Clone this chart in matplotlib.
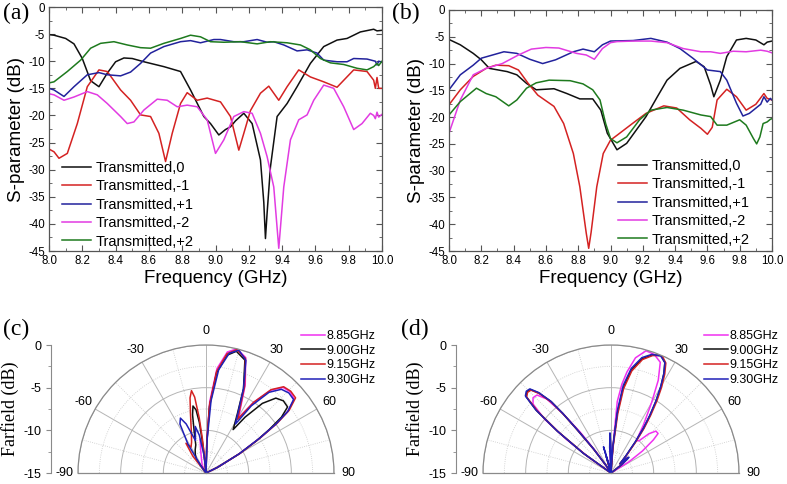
import numpy as np
import matplotlib.pyplot as plt
from matplotlib.ticker import MultipleLocator, FixedLocator

plt.rcParams['font.family'] = ['Liberation Sans', 'DejaVu Sans']
plt.rcParams['axes.unicode_minus'] = False

# ---------------- data: panel (a) ----------------
fa_t0 = [8.0, 8.03, 8.1, 8.15, 8.2, 8.25, 8.3, 8.35, 8.4, 8.45, 8.5, 8.57, 8.69, 8.79, 8.85, 8.93, 8.97,
         9.02, 9.06, 9.09, 9.12, 9.17, 9.22, 9.27, 9.29, 9.30, 9.31, 9.33, 9.37, 9.43, 9.49, 9.57, 9.65,
         9.73, 9.79, 9.87, 9.95, 9.97, 10.0]
sa_t0 = [-5.1, -5.2, -5.8, -6.8, -9.5, -13.6, -14.7, -12.2, -10.1, -9.4, -9.5, -10.1, -11.0, -11.9, -15.3,
         -20.2, -21.5, -23.6, -22.6, -22.1, -21.0, -19.6, -21.5, -28.2, -36.0, -42.7, -38.0, -29.5, -20.2,
         -17.8, -14.7, -10.4, -7.3, -6.1, -5.8, -4.6, -4.1, -4.4, -4.3]

fa_m1 = [8.0, 8.03, 8.06, 8.11, 8.17, 8.23, 8.3, 8.35, 8.43, 8.49, 8.55, 8.61, 8.66, 8.7, 8.74, 8.79,
         8.83, 8.89, 8.95, 9.03, 9.09, 9.14, 9.17, 9.21, 9.27, 9.32, 9.38, 9.43, 9.5, 9.57, 9.65, 9.73,
         9.83, 9.91, 9.95, 9.96, 9.97, 9.98, 10.0]
sa_m1 = [-26.2, -26.7, -27.9, -27.0, -21.5, -14.7, -11.6, -11.9, -15.3, -17.2, -19.9, -20.2, -23.3,
         -28.5, -23.3, -17.8, -15.8, -17.2, -16.8, -17.5, -20.2, -26.4, -23.3, -19.1, -15.9, -14.6,
         -17.2, -14.7, -11.6, -12.9, -13.8, -14.8, -11.6, -11.9, -13.5, -15.0, -13.0, -15.0, -15.0]

fa_p1 = [8.0, 8.03, 8.09, 8.15, 8.23, 8.3, 8.35, 8.43, 8.49, 8.55, 8.61, 8.69, 8.79, 8.85, 8.91, 8.99,
         9.03, 9.11, 9.17, 9.25, 9.31, 9.35, 9.41, 9.49, 9.55, 9.61, 9.65, 9.73, 9.79, 9.83, 9.91,
         9.96, 9.97, 9.98, 10.0]
sa_p1 = [-15.0, -15.3, -16.5, -14.7, -12.5, -12.1, -12.5, -12.7, -12.0, -10.4, -8.5, -7.3, -6.4, -6.2,
         -6.6, -6.0, -6.0, -6.4, -6.4, -6.0, -6.5, -6.4, -7.0, -8.1, -7.9, -8.5, -9.8, -10.1, -10.1,
         -9.5, -9.6, -10.0, -10.7, -10.0, -10.2]

fa_m2 = [8.0, 8.03, 8.09, 8.15, 8.23, 8.29, 8.35, 8.43, 8.47, 8.51, 8.57, 8.65, 8.71, 8.77, 8.83, 8.89,
         8.95, 9.0, 9.05, 9.11, 9.17, 9.22, 9.27, 9.31, 9.35, 9.38, 9.41, 9.45, 9.5, 9.55, 9.59, 9.65,
         9.71, 9.77, 9.83, 9.88, 9.93, 9.95, 9.96, 9.97, 9.98, 10.0]
sa_m2 = [-16.0, -16.2, -17.2, -16.6, -15.6, -16.2, -17.8, -20.2, -21.5, -21.2, -19.0, -17.0, -17.2,
         -18.4, -18.1, -18.4, -20.8, -27.0, -24.5, -20.2, -19.3, -19.6, -23.3, -27.6, -33.2, -44.5,
         -33.2, -24.5, -20.8, -19.9, -17.2, -14.4, -15.0, -18.4, -22.6, -21.5, -19.6, -20.0, -20.6,
         -19.4, -20.3, -19.8]

fa_p2 = [8.0, 8.03, 8.11, 8.19, 8.25, 8.31, 8.39, 8.47, 8.55, 8.61, 8.69, 8.79, 8.85, 8.91, 8.97,
         9.05, 9.15, 9.25, 9.33, 9.43, 9.51, 9.57, 9.63, 9.69, 9.77, 9.85, 9.91, 9.95, 9.97, 9.98, 10.0]
sa_p2 = [-14.0, -13.8, -11.9, -9.8, -7.6, -6.7, -6.4, -7.0, -7.5, -7.6, -6.7, -5.8, -5.2, -5.5, -6.4,
         -6.5, -6.4, -6.8, -6.4, -6.6, -7.0, -7.9, -9.5, -10.3, -10.6, -11.3, -11.6, -11.0, -10.4,
         -10.8, -10.0]

# ---------------- data: panel (b) ----------------
fb_t0 = [8.0, 8.07, 8.15, 8.2, 8.25, 8.36, 8.42, 8.48, 8.54, 8.65, 8.73, 8.81, 8.89, 8.94, 8.98, 9.04,
         9.1, 9.16, 9.22, 9.29, 9.35, 9.43, 9.53, 9.58, 9.62, 9.64, 9.68, 9.72, 9.78, 9.84, 9.9, 9.95,
         9.97, 10.0]
sb_t0 = [-5.5, -6.5, -8.1, -9.3, -10.9, -11.5, -12.1, -13.7, -14.9, -14.7, -15.6, -16.6, -16.6, -18.7,
         -23.0, -26.1, -24.9, -22.4, -19.9, -16.2, -13.1, -10.9, -9.6, -10.6, -14.0, -16.2, -13.1, -8.7,
         -5.6, -5.3, -5.6, -6.5, -6.0, -5.8]

fb_m1 = [8.0, 8.07, 8.15, 8.23, 8.29, 8.37, 8.43, 8.49, 8.55, 8.65, 8.71, 8.77, 8.81, 8.85, 8.865,
         8.88, 8.915, 8.955, 9.0, 9.04, 9.14, 9.22, 9.33, 9.41, 9.49, 9.56, 9.6, 9.63, 9.66, 9.72, 9.78,
         9.84, 9.9, 9.95, 9.97, 10.0]
sb_m1 = [-17.7, -14.9, -12.4, -10.9, -10.3, -10.4, -11.2, -13.7, -15.9, -18.0, -21.2, -26.8, -33.0,
         -41.7, -44.5, -41.5, -33.0, -26.8, -24.3, -23.4, -21.1, -19.3, -17.9, -18.3, -20.5, -22.1,
         -23.2, -21.9, -16.8, -14.8, -16.2, -18.7, -17.6, -15.6, -16.5, -16.8]

fb_p1 = [8.0, 8.07, 8.15, 8.2, 8.27, 8.34, 8.42, 8.5, 8.58, 8.66, 8.77, 8.83, 8.9, 8.95, 9.0, 9.14,
         9.25, 9.35, 9.43, 9.51, 9.6, 9.68, 9.72, 9.78, 9.82, 9.86, 9.93, 9.95, 9.97, 9.99, 10.0]
sb_p1 = [-14.9, -12.1, -10.3, -9.0, -8.4, -7.8, -8.1, -9.2, -10.0, -9.3, -7.8, -7.3, -7.8, -6.5, -5.8,
         -5.7, -5.3, -6.0, -7.2, -9.0, -11.2, -11.5, -13.1, -17.4, -19.8, -19.3, -17.6, -16.2, -17.2,
         -16.5, -16.8]

fb_m2 = [8.0, 8.07, 8.15, 8.23, 8.33, 8.43, 8.51, 8.6, 8.68, 8.79, 8.85, 8.9, 8.95, 9.0, 9.04, 9.14,
         9.25, 9.35, 9.45, 9.56, 9.62, 9.68, 9.76, 9.84, 9.93, 9.97, 10.0]
sb_m2 = [-23.0, -16.8, -12.1, -10.9, -10.0, -8.4, -7.3, -7.0, -7.1, -8.1, -8.4, -9.2, -7.2, -6.1, -5.9,
         -5.8, -5.8, -6.1, -7.2, -7.8, -7.8, -8.1, -7.7, -7.8, -7.5, -7.7, -8.0]

fb_p2 = [8.0, 8.07, 8.13, 8.17, 8.23, 8.29, 8.37, 8.42, 8.48, 8.54, 8.62, 8.75, 8.83, 8.89, 8.935, 8.97,
         9.0, 9.04, 9.1, 9.18, 9.25, 9.35, 9.45, 9.56, 9.62, 9.66, 9.72, 9.8, 9.84, 9.885, 9.905,
         9.925, 9.945, 9.97, 9.99, 10.0]
sb_p2 = [-19.6, -17.1, -15.6, -14.6, -15.6, -16.2, -17.9, -16.8, -14.6, -13.6, -13.1, -13.2, -13.8,
         -14.9, -16.8, -21.2, -24.0, -24.8, -23.7, -20.5, -18.7, -18.2, -18.7, -19.6, -19.9, -21.5,
         -21.5, -20.5, -21.5, -24.0, -25.0, -23.7, -21.2, -20.9, -20.4, -20.3]

series_names = ['Transmitted,0', 'Transmitted,-1', 'Transmitted,+1', 'Transmitted,-2', 'Transmitted,+2']
series_colors = ['#101010', '#d42222', '#22229c', '#e23be2', '#1e7a1e']

# ---------------- data: panel (c), far field (angle deg, dB) ----------------
c885_ang = [-90, -30, -26, -20, -14, -10, -7, -4, -1, 0, 1.5, 3, 6, 10, 14, 19, 24, 28, 30.5, 34, 38, 42,
            46, 50, 53, 55, 57, 60, 64, 68, 90]
c885_db = [-15, -15, -14, -13.5, -12.5, -11, -12, -14, -15, -15, -11, -6.6, -2.7, -0.6, 0, -0.7, -3.7,
           -6.4, -7.5, -5, -2.7, -1.5, -1.3, -1.5, -3, -5, -7.5, -10.5, -13.5, -15, -15]
c900_ang = [-90, -40, -35, -30, -25, -20, -16, -13, -11, -9, -7.5, -6, -4, 0, 1.5, 3, 6, 10, 14, 19, 24,
            28, 32, 35, 39, 43, 47, 51, 53.5, 55.5, 57.5, 60, 64, 68, 90]
c900_db = [-15, -15, -13, -12.5, -12, -11.5, -10, -8, -7, -7.5, -9, -12, -15, -15, -11.5, -7.2, -3.2,
           -1, -0.3, -1, -4.2, -7.2, -9, -7, -4.5, -3, -2.6, -2.7, -4, -6, -8, -10.5, -13.5, -15, -15]
c915_ang = [-90, -42, -38, -34, -30, -25, -20, -15, -12, -10, -8.5, -7, -6, -4, 0, 1.5, 3, 6, 10, 14,
            19, 24, 28, 30.5, 34, 38, 42, 46, 50, 53, 55, 57, 60, 64, 68, 90]
c915_db = [-15, -15, -12.5, -10.8, -11.5, -11, -10, -8, -6, -5.2, -6, -8.5, -11, -15, -15, -11.5, -7,
           -3, -0.8, -0.1, -0.8, -3.9, -6.6, -7.7, -5, -2.6, -1.4, -1.2, -1.3, -2.8, -4.8, -7.3, -10.3,
           -13.5, -15, -15]
c930_ang = [-90, -40, -36, -32, -28, -25, -22, -18, -16, -13, -10, -6, -2, 0, 2, 4, 7, 11, 15, 19.5,
            24, 28, 31, 34, 38, 42, 46, 50, 53, 55, 57, 60, 64, 68, 90]
c930_db = [-15, -15, -14, -11, -8.5, -7.9, -8.8, -11, -10.5, -9.4, -10.5, -13, -15, -15, -11, -6.5,
           -2.8, -0.7, -0.1, -1, -4.2, -7, -8.3, -5.5, -3, -1.8, -1.5, -1.6, -3, -5, -7.5, -10.5, -13.5,
           -15, -15]

# ---------------- data: panel (d), far field (angle deg, dB) ----------------
d885_ang = [-90, -58, -55, -53, -51, -48.5, -46, -43.5, -41, -39, -37, -35, -32, -6, -3, -1.5, 0, 2,
            4.5, 5, 7, 9, 12, 16, 20, 24, 27, 30, 34, 38, 41, 44, 47, 50, 52, 55, 58, 61, 90]
d885_db = [-15, -15, -12, -8.5, -5, -2.8, -2.3, -2.4, -3.5, -6, -9, -12, -15, -15, -12.5, -11, -13, -14,
           -10.5, -6.6, -4.5, -3, -1.2, -0.1, -0.2, -0.8, -2.8, -5.5, -8.2, -10.2, -10, -8.6, -7.8,
           -7.8, -8.7, -10.5, -12.5, -15, -15]
d900_ang = [-90, -57, -54.5, -52, -50, -48, -46, -44, -42, -40, -39, -38, -36, -33, -30, -20, -16, -13,
            -8, 0, 4, 6, 8, 11, 15, 19, 23, 26, 28, 30, 32, 34, 36, 38, 41, 44, 47, 49, 52, 55, 90]
d900_db = [-15, -15, -11, -7, -3.6, -1.6, -1.3, -1.4, -2.4, -4.1, -6, -8.5, -11.5, -14, -15, -15, -13,
           -14.5, -15, -15, -12, -8, -5, -2.8, -1.2, -0.4, 0, -0.6, -1.8, -3.3, -5, -6.8, -8.5, -10.3,
           -12.3, -13.5, -12.5, -12.4, -13.5, -15, -15]
d915_ang = [-90, -57, -54.5, -52, -50, -48, -46, -44, -42, -40, -39, -38, -36, -33, -30, -20, -16, -13,
            -8, 0, 4.5, 6.5, 8.5, 11.5, 15.5, 19.5, 23.5, 26.5, 28.5, 30.5, 32.5, 34.5, 36.5, 38.5,
            41.5, 44, 47, 49, 52, 55, 90]
d915_db = [-15, -15, -11.2, -7.2, -3.8, -1.7, -1.4, -1.5, -2.5, -4.2, -6.2, -8.7, -11.7, -14, -15, -15,
           -13.5, -14.5, -15, -15, -12, -8, -5, -2.8, -1.2, -0.4, 0, -0.6, -1.8, -3.3, -5, -6.8, -8.5,
           -10.3, -12.3, -13.5, -12.6, -12.5, -13.5, -15, -15]
d930_ang = [-90, -57, -54.5, -52, -50, -48, -46, -44, -42, -40, -39, -38, -36, -33, -30, -20, -16, -13,
            -8, -3, -1.5, 0, 2, 4, 6, 8, 11, 15, 19, 23, 26, 28, 30, 32, 34, 36, 38, 41, 44, 47, 49,
            52, 55, 90]
d930_db = [-15, -15, -11, -7, -3.5, -1.5, -1.2, -1.3, -2.3, -4, -6, -8.5, -11.5, -14, -15, -15, -11.8,
           -14, -15, -12, -10.3, -12, -15, -12, -7.5, -4.6, -2.5, -1, -0.3, -0.1, -0.6, -1.8, -3.4, -5.1,
           -6.9, -8.6, -10.4, -12.4, -13.5, -12.3, -12.2, -13.3, -15, -15]

freq_names = ['8.85GHz', '9.00GHz', '9.15GHz', '9.30GHz']
freq_colors = ['#f030f0', '#101010', '#d42222', '#2020b8']

W, H = 787, 484
fig = plt.figure(figsize=(W / 100, H / 100), dpi=100)


def px_rect(l, t, r, b):
    return [l / W, 1 - b / H, (r - l) / W, (b - t) / H]


def sparam_panel(rect, curves, leg_xy, letter, letter_xy):
    ax = fig.add_axes(rect)
    for (f, s), name, col in zip(curves, series_names, series_colors):
        ax.plot(f, s, color=col, lw=1.1, label=name)
    ax.set_xlim(8, 10)
    ax.set_ylim(-45, 0)
    ax.xaxis.set_major_locator(MultipleLocator(0.2))
    ax.xaxis.set_minor_locator(MultipleLocator(0.1))
    ax.yaxis.set_major_locator(MultipleLocator(5))
    ax.yaxis.set_minor_locator(MultipleLocator(2.5))
    ax.set_xticklabels([f'{v:.1f}' for v in ax.get_xticks()])
    ax.tick_params(which='both', direction='in', top=True, right=True, color='#555555',
                   labelsize=8.3, pad=3)
    ax.tick_params(which='major', length=4)
    ax.tick_params(which='minor', length=2)
    for sp in ax.spines.values():
        sp.set_color('#555555')
        sp.set_linewidth(0.9)
    ax.set_xlabel('Frequency (GHz)', fontsize=13.5, labelpad=2)
    ax.set_ylabel('S-parameter (dB)', fontsize=13.5, labelpad=2)
    ax.legend(loc='upper left', bbox_to_anchor=(leg_xy[0] / W, 1 - leg_xy[1] / H),
              bbox_transform=fig.transFigure, frameon=False, fontsize=10.5, handlelength=2.0,
              handletextpad=0.3, labelspacing=0.3, borderpad=0, borderaxespad=0)
    fig.text(letter_xy[0] / W, 1 - letter_xy[1] / H, letter, family='Liberation Serif',
             fontsize=17, va='top', ha='left')
    return ax


sparam_panel(px_rect(49, 7, 382, 251),
             [(fa_t0, sa_t0), (fa_m1, sa_m1), (fa_p1, sa_p1), (fa_m2, sa_m2), (fa_p2, sa_p2)],
             (62, 161), '(a)', (3, 3))
sparam_panel(px_rect(449, 10, 772, 251),
             [(fb_t0, sb_t0), (fb_m1, sb_m1), (fb_p1, sb_p1), (fb_m2, sb_m2), (fb_p2, sb_p2)],
             (618, 159), '(b)', (392, 3))


def farfield_panel(cx, curves, axis_x, leg_xy, letter, letter_xy):
    R = 128
    cy = 473
    # the half-disc is centred vertically inside a square box
    ax = fig.add_axes(px_rect(cx - R, cy - R - R / 2, cx + R, cy + R / 2), projection='polar')
    ax.set_theta_zero_location('N')
    ax.set_theta_direction(-1)
    ax.set_thetamin(-90)
    ax.set_thetamax(90)
    ax.set_ylim(-15, 0)
    angs = np.arange(-90, 91, 30)
    ax.set_thetagrids(angs, [str(a) for a in angs], fontsize=9)
    ax.xaxis.set_minor_locator(FixedLocator(np.deg2rad(np.arange(-75, 90, 30))))
    ax.set_yticks([-15, -10, -5, 0])
    ax.set_yticklabels([])
    ax.yaxis.set_minor_locator(FixedLocator([-12.5, -7.5, -2.5]))
    ax.grid(True, which='major', color='#b5b5b5', lw=0.7, ls='-')
    ax.grid(True, which='minor', color='#c8c8c8', lw=0.6, ls=':')
    ax.tick_params(which='both', length=0)
    ax.tick_params(axis='x', pad=3)
    for name in ('polar', 'start', 'end'):
        ax.spines[name].set_color('#8a8a8a')
        ax.spines[name].set_linewidth(0.9)
    for (a, d), name, col in zip(curves, freq_names, freq_colors):
        ax.plot(np.deg2rad(a), np.clip(d, -15, 0), color=col, lw=1.1, label=name)
    ax.legend(loc='upper left', bbox_to_anchor=(leg_xy[0] / W, 1 - leg_xy[1] / H),
              bbox_transform=fig.transFigure, frameon=False, fontsize=9, handlelength=1.9,
              handletextpad=0.15, labelspacing=0.22, borderpad=0, borderaxespad=0)

    # radial scale drawn as a separate axis on the left
    sc = fig.add_axes(px_rect(axis_x, cy - R, axis_x + 1, cy))
    sc.set_ylim(-15, 0)
    sc.set_xticks([])
    sc.yaxis.set_major_locator(MultipleLocator(5))
    sc.yaxis.set_minor_locator(MultipleLocator(2.5))
    for s in ('top', 'right', 'bottom'):
        sc.spines[s].set_visible(False)
    sc.spines['left'].set_color('#8a8a8a')
    sc.patch.set_alpha(0)
    sc.tick_params(which='both', direction='out', color='#8a8a8a', labelsize=9)
    sc.tick_params(which='major', length=3.5)
    sc.tick_params(which='minor', length=2)
    sc.set_ylabel('Farfield (dB)', family='Liberation Serif', fontsize=13, labelpad=3)
    fig.text(letter_xy[0] / W, 1 - letter_xy[1] / H, letter, family='Liberation Serif',
             fontsize=17, va='top', ha='left')


farfield_panel(206, [(c885_ang, c885_db), (c900_ang, c900_db), (c915_ang, c915_db), (c930_ang, c930_db)],
               51, (301, 330), '(c)', (3, 319))
farfield_panel(611, [(d885_ang, d885_db), (d900_ang, d900_db), (d915_ang, d915_db), (d930_ang, d930_db)],
               456, (704, 330), '(d)', (401, 319))

fig.savefig('out.png', dpi=100)
